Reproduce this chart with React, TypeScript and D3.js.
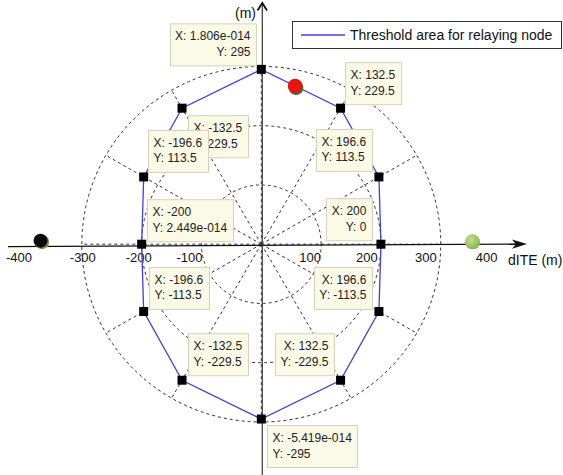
import React from "react";
import * as d3 from "d3";

// Vertices of the relaying-node threshold area (metres)
const VERTEX_X = [200, 196.6, 132.5, 1.806e-14, -132.5, -196.6, -200, -196.6, -132.5, -5.419e-14, 132.5, 196.6];
const VERTEX_Y = [0, 113.5, 229.5, 295, 229.5, 113.5, 2.449e-14, -113.5, -229.5, -295, -229.5, -113.5];

// Node positions
const RED_NODE = [56.5, 267];
const GREEN_NODE = [353, 4];
const BLACK_NODE = [-369, 6];

// Polar grid
const GRID_RADII = [100, 200, 300];
const SPOKE_ANGLES = [0, 30, 60, 90, 120, 150, 180, 210, 240, 270, 300, 330];

// Axis tick labels
const TICK_VALUES = [-400, -300, -200, -100, 100, 200, 300, 400];

const LEGEND_LABEL = "Threshold area for relaying node";

// Data-tip placement around each vertex (same order as the vertices)
const TIP_LAYOUT = [
  { side: "L", gap: 9, dy: -46, align: "end", z: 1 },
  { side: "L", gap: 7, dy: -48, align: "start", z: 1 },
  { side: "R", gap: 4.5, dy: -46, align: "start", z: 1 },
  { side: "L", gap: 5.3, dy: -46, align: "end", z: 1 },
  { side: "R", gap: 6, dy: 7, align: "start", z: 0 },
  { side: "R", gap: 4.3, dy: -47, align: "start", z: 1 },
  { side: "R", gap: 5.3, dy: -45, align: "start", z: 1 },
  { side: "R", gap: 5.3, dy: -44.5, align: "start", z: 1 },
  { side: "R", gap: 6, dy: -47, align: "start", z: 1 },
  { side: "R", gap: 5.7, dy: 6, align: "start", z: 1 },
  { side: "L", gap: 6.6, dy: -47, align: "end", z: 1 },
  { side: "L", gap: 6.9, dy: -44.5, align: "end", z: 1 },
];
const TICK_NUDGE = [-3, 1, -3, -12, -11, -14, -15, -14];

const W = 563;
const H = 475;
const FONT = "'Liberation Sans', Arial, Helvetica, sans-serif";

const x = d3.scaleLinear().domain([-400, 400]).range([22, 500.6]);
const y = d3.scaleLinear().domain([-300, 300]).range([422, 66.4]);

// MATLAB-style data-tip number: 4 significant digits, 3-digit exponent for tiny values
function matlabNum(v: number): string {
  if (v === 0) return "0";
  if (Math.abs(v) < 1e-4) {
    const [m, e] = v.toExponential(3).split("e");
    const sign = e[0] === "-" ? "-" : "+";
    const digits = e.replace(/[+-]/, "").padStart(3, "0");
    return `${m}e${sign}${digits}`;
  }
  return String(+v.toPrecision(4));
}

let measureCtx: CanvasRenderingContext2D | null = null;
function textWidth(s: string, px: number): number {
  if (!measureCtx) {
    const c = document.createElement("canvas");
    measureCtx = c.getContext("2d");
  }
  if (!measureCtx) return s.length * px * 0.55;
  measureCtx.font = `${px}px ${FONT}`;
  return measureCtx.measureText(s).width;
}

const rad = (a: number) => (a * Math.PI) / 180;

export default function App() {
  const ox = x(0);
  const oy = y(0);

  const circlePath = (r: number) =>
    d3
      .line<number>()
      .x((a) => x(r * Math.cos(rad(a))))
      .y((a) => y(r * Math.sin(rad(a))))(d3.range(0, 361, 2)) as string;

  const vertices = VERTEX_X.map((vx, i) => ({ vx, vy: VERTEX_Y[i], i }));
  const polygon = d3
    .line<{ vx: number; vy: number }>()
    .x((d) => x(d.vx))
    .y((d) => y(d.vy))
    .curve(d3.curveLinearClosed)(vertices) as string;

  const tips = vertices
    .map((v) => {
      const lay = TIP_LAYOUT[v.i];
      const l1 = `X: ${matlabNum(v.vx)}`;
      const l2 = `Y: ${matlabNum(v.vy)}`;
      const tw = Math.max(textWidth(l1, 12), textWidth(l2, 12));
      const w = Math.round(tw + 11);
      const ax = x(v.vx);
      const ay = y(v.vy);
      const bx = lay.side === "R" ? ax + lay.gap : ax - lay.gap - w;
      const by = ay + lay.dy;
      return { ...v, lay, l1, l2, w, bx, by };
    })
    .sort((a, b) => a.lay.z - b.lay.z);

  return (
    <svg
      width={W}
      height={H}
      style={{ position: "absolute", left: 0, top: 0, background: "#fff" }}
      fontFamily={FONT}
    >
      <defs>
        <radialGradient id="greenBall" cx="0.4" cy="0.35" r="0.7">
          <stop offset="0" stopColor="#c4e08c" />
          <stop offset="1" stopColor="#86b04a" />
        </radialGradient>
      </defs>
      <rect width={W} height={H} fill="#fff" />

      {/* polar grid */}
      <g fill="none" stroke="#333" strokeWidth={1} strokeDasharray="3,3">
        {GRID_RADII.map((r) => (
          <path key={r} d={circlePath(r)} />
        ))}
        {SPOKE_ANGLES.map((a) => (
          <line
            key={a}
            x1={ox}
            y1={oy}
            x2={x(300 * Math.cos(rad(a)))}
            y2={y(300 * Math.sin(rad(a)))}
          />
        ))}
      </g>

      {/* axes */}
      <line x1={8} y1={246.7} x2={520} y2={244} stroke="#111" strokeWidth={1.3} />
      <path d="M527,244 L512,239.5 L516,244.2 L512,248.8 Z" fill="#111" />
      <line x1={262.3} y1={4} x2={262.3} y2={H} stroke="#444" strokeWidth={1.3} />
      <polyline points="257.5,10.5 262.3,3 267,10.5" fill="none" stroke="#111" strokeWidth={1.8} />
      <text x={235} y={18} fontSize={14} fill="#111">(m)</text>
      <text x={508} y={265} fontSize={14} fill="#111">dITE (m)</text>
      {TICK_VALUES.map((t, i) => (
        <text
          key={t}
          x={x(t) + TICK_NUDGE[i]}
          y={262}
          fontSize={13}
          textAnchor="middle"
          fill="#111"
        >
          {t}
        </text>
      ))}

      {/* threshold polygon */}
      <path d={polygon} fill="none" stroke="#4040e0" strokeWidth={1.3} />

      {/* nodes */}
      <circle cx={x(RED_NODE[0]) + 1} cy={y(RED_NODE[1]) + 1.8} r={7.3} fill="#4a6a2a" />
      <circle cx={x(RED_NODE[0])} cy={y(RED_NODE[1])} r={7.3} fill="#ee1111" />
      <circle cx={x(GREEN_NODE[0])} cy={y(GREEN_NODE[1])} r={7.5} fill="url(#greenBall)" />
      <circle cx={x(BLACK_NODE[0]) + 1.3} cy={y(BLACK_NODE[1]) + 1.3} r={7.3} fill="#7d8f3a" />
      <circle cx={x(BLACK_NODE[0])} cy={y(BLACK_NODE[1])} r={7} fill="#0a0a0a" />

      {/* vertex markers */}
      {vertices.map((v) => (
        <rect
          key={v.i}
          x={x(v.vx) - 4.5}
          y={y(v.vy) - 4.5}
          width={9}
          height={9}
          fill="#000"
        />
      ))}

      {/* data tips */}
      {tips.map((t) => {
        const tx = t.lay.align === "end" ? t.bx + t.w - 5.5 : t.bx + 5.5;
        return (
          <g key={t.i}>
            <rect
              x={t.bx + 0.5}
              y={t.by + 0.5}
              width={t.w}
              height={42}
              fill="#fbfae6"
              stroke="#d4d2bc"
              strokeWidth={1}
            />
            <text x={tx} y={t.by + 17} fontSize={12} fill="#222" textAnchor={t.lay.align}>
              {t.l1}
            </text>
            <text x={tx} y={t.by + 32.5} fontSize={12} fill="#222" textAnchor={t.lay.align}>
              {t.l2}
            </text>
          </g>
        );
      })}

      {/* legend */}
      <rect x={292.5} y={21.5} width={269} height={27} fill="#fff" stroke="#333" strokeWidth={1} />
      <line x1={301} y1={35} x2={345} y2={35} stroke="#4040e0" strokeWidth={1.3} />
      <text x={350} y={40} fontSize={14} fill="#111">
        {LEGEND_LABEL}
      </text>
    </svg>
  );
}
